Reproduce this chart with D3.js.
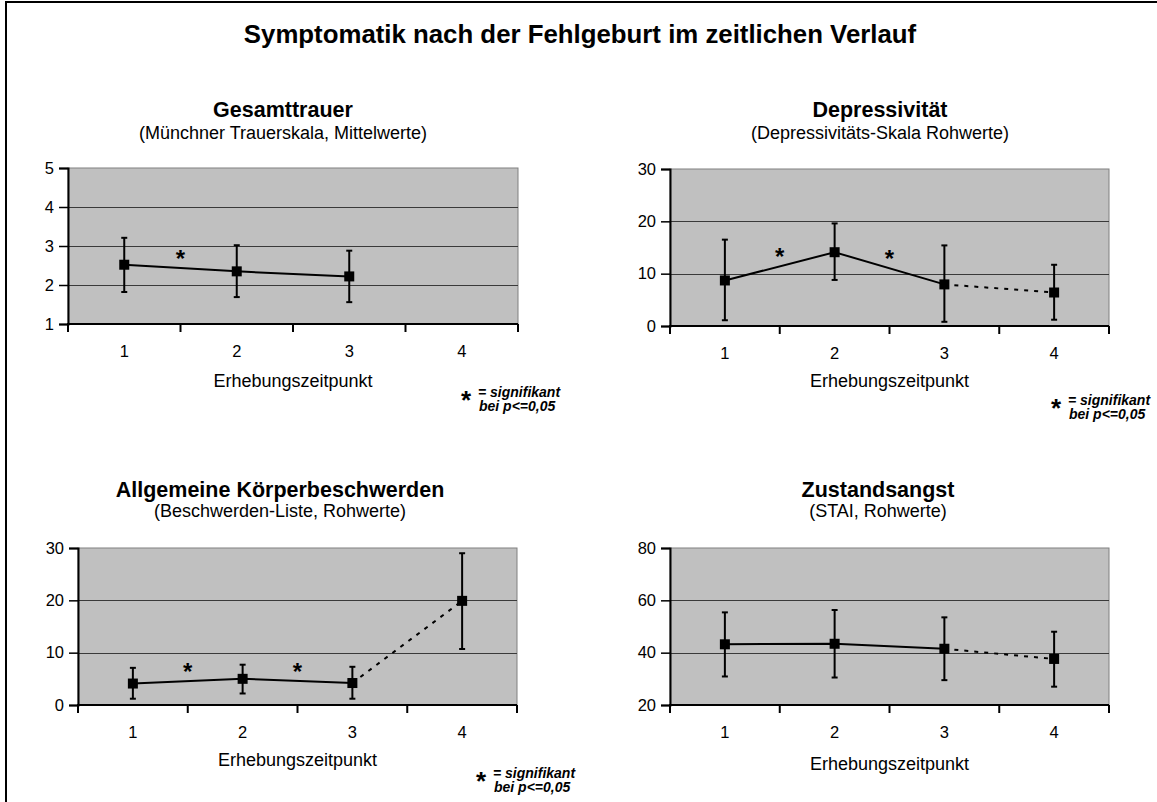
<!DOCTYPE html>
<html>
<head>
<meta charset="utf-8">
<script src="https://cdn.jsdelivr.net/npm/d3@7"></script>
<style>
  body { margin: 0; background: #fff; }
  text { font-family: "Liberation Sans", Arial, sans-serif; }
</style>
</head>
<body>
<div id="chart"></div>
<script>
var width = 1157;
var height = 802;

// data
var categories = ["1", "2", "3", "4"];
var mainTitle = "Symptomatik nach der Fehlgeburt im zeitlichen Verlauf";
var axisTitle = "Erhebungszeitpunkt";

var trauerTicks = [1, 2, 3, 4, 5];
var trauerMean = [2.52, 2.35, 2.22];
var trauerLow = [1.82, 1.69, 1.56];
var trauerHigh = [3.21, 3.02, 2.88];
var trauerSig = [["1", "2"]];

var depressTicks = [0, 10, 20, 30];
var depressMean = [8.7, 14.1, 7.95, 6.4];
var depressLow = [1.1, 8.8, 0.8, 1.2];
var depressHigh = [16.5, 19.6, 15.4, 11.7];
var depressSig = [["1", "2"], ["2", "3"]];

var beschwTicks = [0, 10, 20, 30];
var beschwMean = [4.1, 5.0, 4.2, 19.9];
var beschwLow = [1.2, 2.2, 1.2, 10.7];
var beschwHigh = [7.1, 7.7, 7.3, 29.0];
var beschwSig = [["1", "2"], ["2", "3"]];

var angstTicks = [20, 40, 60, 80];
var angstMean = [43.2, 43.4, 41.5, 37.6];
var angstLow = [30.9, 30.5, 29.5, 27.0];
var angstHigh = [55.4, 56.3, 53.5, 48.0];
var angstSig = [];

var svg = d3.select("#chart").append("svg")
    .attr("width", width)
    .attr("height", height);

// frame (left + top edge only)
svg.append("path")
    .attr("d", "M6,802V2H1157")
    .attr("fill", "none")
    .attr("stroke", "#000")
    .attr("stroke-width", 2);

svg.append("text")
    .attr("x", 580).attr("y", 43)
    .attr("text-anchor", "middle")
    .attr("font-size", 25.8)
    .attr("font-weight", "bold")
    .text(mainTitle);

var panels = [
  { title: "Gesamttrauer", sub: "(Münchner Trauerskala, Mittelwerte)",
    ticks: trauerTicks, mean: trauerMean, low: trauerLow, high: trauerHigh, sig: trauerSig,
    x0: 68, x1: 518, y0: 168, y1: 324, tcx: 283, tY: 117, sY: 139, catY: 357, axY: 387, legX: 460, legY: 397 },
  { title: "Depressivität", sub: "(Depressivitäts-Skala Rohwerte)",
    ticks: depressTicks, mean: depressMean, low: depressLow, high: depressHigh, sig: depressSig,
    x0: 670, x1: 1109, y0: 169, y1: 326, tcx: 880, tY: 117, sY: 139, catY: 359, axY: 387, legX: 1050, legY: 405 },
  { title: "Allgemeine Körperbeschwerden", sub: "(Beschwerden-Liste, Rohwerte)",
    ticks: beschwTicks, mean: beschwMean, low: beschwLow, high: beschwHigh, sig: beschwSig,
    x0: 78, x1: 517, y0: 548, y1: 705, tcx: 280, tY: 497, sY: 517, catY: 738, axY: 766, legX: 475, legY: 778 },
  { title: "Zustandsangst", sub: "(STAI, Rohwerte)",
    ticks: angstTicks, mean: angstMean, low: angstLow, high: angstHigh, sig: angstSig,
    x0: 670, x1: 1109, y0: 548, y1: 705, tcx: 878, tY: 497, sY: 517, catY: 738, axY: 770 }
];

panels.forEach(drawPanel);

function drawPanel(p) {
  var g = svg.append("g");
  var x = d3.scaleBand().domain(categories).range([p.x0, p.x1]);
  var y = d3.scaleLinear().domain(d3.extent(p.ticks)).range([p.y1, p.y0]);

  g.append("text")
      .attr("x", p.tcx).attr("y", p.tY)
      .attr("text-anchor", "middle")
      .attr("font-size", 21.5)
      .attr("font-weight", "bold")
      .text(p.title);
  g.append("text")
      .attr("x", p.tcx).attr("y", p.sY)
      .attr("text-anchor", "middle")
      .attr("font-size", 18)
      .text(p.sub);

  // plot area
  g.append("rect")
      .attr("x", p.x0).attr("y", p.y0)
      .attr("width", p.x1 - p.x0).attr("height", p.y1 - p.y0)
      .attr("fill", "#c0c0c0")
      .attr("stroke", "#808080")
      .attr("stroke-width", 1);

  g.selectAll(".grid")
      .data(p.ticks.slice(1, -1))
      .enter().append("line")
      .attr("x1", p.x0).attr("x2", p.x1)
      .attr("y1", function(d) { return Math.round(y(d)) + 0.5; })
      .attr("y2", function(d) { return Math.round(y(d)) + 0.5; })
      .attr("stroke", "#3a3a3a")
      .attr("stroke-width", 1);

  // y axis
  var ya = g.append("g")
      .attr("transform", "translate(" + p.x0 + ",0)")
      .call(d3.axisLeft(y).tickValues(p.ticks).tickFormat(d3.format("d")).tickSize(9).tickPadding(5));
  ya.select(".domain").attr("stroke-width", 2);
  ya.selectAll(".tick line").attr("stroke-width", 1.5);
  ya.selectAll("text").attr("font-size", 16.5).attr("fill", "#000")
      .attr("font-family", "Liberation Sans, Arial, sans-serif");

  // x axis: ticks at the band boundaries, labels at band centres
  var bounds = categories.map(function(c) { return x(c); }).concat([p.x1]);
  g.append("line")
      .attr("x1", p.x0 - 1).attr("x2", p.x1)
      .attr("y1", p.y1).attr("y2", p.y1)
      .attr("stroke", "#000").attr("stroke-width", 2);
  g.selectAll(".xt")
      .data(bounds)
      .enter().append("line")
      .attr("x1", function(d) { return d; })
      .attr("x2", function(d) { return d; })
      .attr("y1", p.y1).attr("y2", p.y1 + 8)
      .attr("stroke", "#000").attr("stroke-width", 2);
  g.selectAll(".xl")
      .data(categories)
      .enter().append("text")
      .attr("x", function(d) { return x(d) + x.bandwidth() / 2; })
      .attr("y", p.catY)
      .attr("text-anchor", "middle")
      .attr("font-size", 16.5)
      .text(function(d) { return d; });
  g.append("text")
      .attr("x", (p.x0 + p.x1) / 2).attr("y", p.axY)
      .attr("text-anchor", "middle")
      .attr("font-size", 18)
      .text(axisTitle);

  var pts = p.mean.map(function(v, i) {
    return { c: categories[i], v: v, lo: p.low[i], hi: p.high[i] };
  });
  var cx = function(d) { return x(d.c) + x.bandwidth() / 2; };
  var line = d3.line().x(cx).y(function(d) { return y(d.v); });

  // error bars
  var eb = g.selectAll(".eb").data(pts).enter().append("g");
  eb.append("line")
      .attr("x1", cx).attr("x2", cx)
      .attr("y1", function(d) { return y(d.lo); })
      .attr("y2", function(d) { return y(d.hi); })
      .attr("stroke", "#000").attr("stroke-width", 2);
  ["lo", "hi"].forEach(function(k) {
    eb.append("line")
        .attr("x1", function(d) { return cx(d) - 3; })
        .attr("x2", function(d) { return cx(d) + 3; })
        .attr("y1", function(d) { return y(d[k]); })
        .attr("y2", function(d) { return y(d[k]); })
        .attr("stroke", "#000").attr("stroke-width", 2);
  });

  g.append("path")
      .attr("d", line(pts.slice(0, 3)))
      .attr("fill", "none").attr("stroke", "#000").attr("stroke-width", 2);
  if (pts.length > 3) {
    g.append("path")
        .attr("d", line(pts.slice(2, 4)))
        .attr("fill", "none").attr("stroke", "#000").attr("stroke-width", 2)
        .attr("stroke-dasharray", "4,6");
  }

  g.selectAll(".mk").data(pts).enter().append("rect")
      .attr("x", function(d) { return cx(d) - 5; })
      .attr("y", function(d) { return y(d.v) - 5; })
      .attr("width", 10).attr("height", 10)
      .attr("fill", "#000");

  // significance stars between two time points
  g.selectAll(".sig").data(p.sig).enter().append("text")
      .attr("x", function(d) { return x(d[1]); })
      .attr("y", function(d) {
        var a = p.mean[categories.indexOf(d[0])], b = p.mean[categories.indexOf(d[1])];
        return y((a + b) / 2) - 1;
      })
      .attr("text-anchor", "middle")
      .attr("font-size", 24)
      .attr("font-weight", "bold")
      .text("*");

  if (p.sig.length) {
    var leg = g.append("g").attr("transform", "translate(" + p.legX + "," + p.legY + ")");
    leg.append("text")
        .attr("x", 6).attr("y", 12)
        .attr("text-anchor", "middle")
        .attr("font-size", 26).attr("font-weight", "bold")
        .text("*");
    leg.append("text")
        .attr("x", 18).attr("y", 0)
        .attr("font-size", 14).attr("font-weight", "bold").attr("font-style", "italic")
        .text("= signifikant");
    leg.append("text")
        .attr("x", 19).attr("y", 14)
        .attr("font-size", 14).attr("font-weight", "bold").attr("font-style", "italic")
        .text("bei p<=0,05");
  }
}
</script>
</body>
</html>
